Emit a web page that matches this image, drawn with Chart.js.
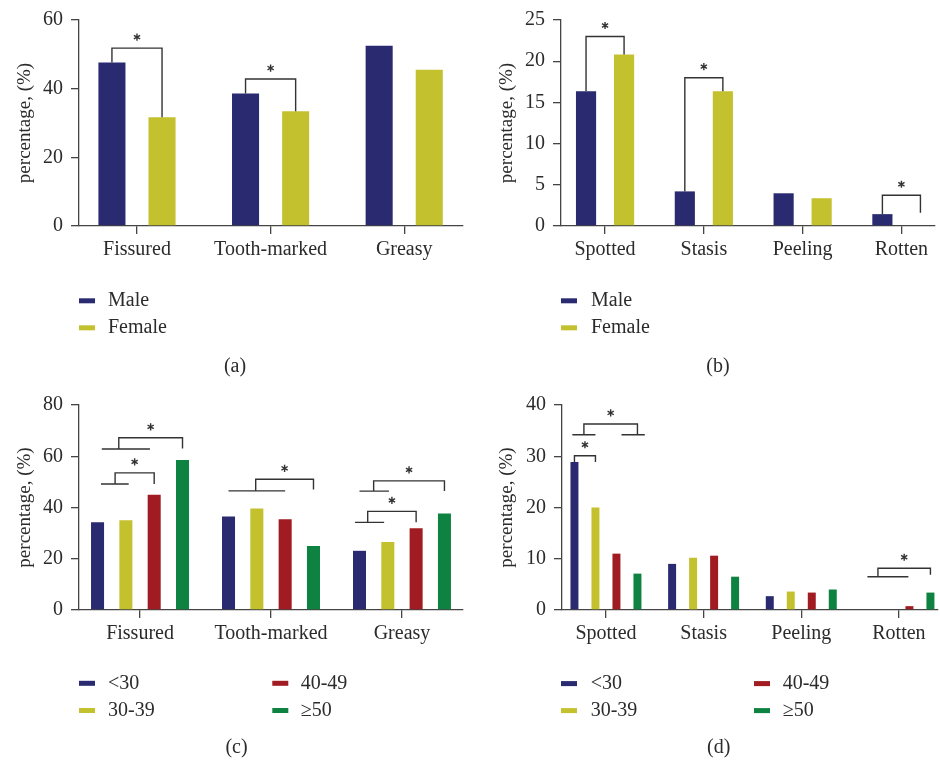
<!DOCTYPE html>
<html>
<head>
<meta charset="utf-8">
<script src="https://cdn.jsdelivr.net/npm/chart.js@4.4.1/dist/chart.umd.min.js"></script>
<style>
  html, body { margin: 0; padding: 0; background: #fff; }
  canvas { position: absolute; }
</style>
</head>
<body>
<canvas id="chartA" width="470" height="380" style="left:0;top:0"></canvas>
<canvas id="chartB" width="470" height="380" style="left:470px;top:0"></canvas>
<canvas id="chartC" width="470" height="376" style="left:0;top:385px"></canvas>
<canvas id="chartD" width="470" height="376" style="left:470px;top:385px"></canvas>
<script>
// categories
const tongueCats = ['Fissured', 'Tooth-marked', 'Greasy'];
const colorCats = ['Spotted', 'Stasis', 'Peeling', 'Rotten'];
const sexLabels = ['Male', 'Female'];
const ageLabels = ['<30', '30-39', '40-49', '\u226550'];

// (a) sex vs tongue shape
const maleA = [47.6, 38.6, 52.5];
const femaleA = [31.7, 33.4, 45.5];
// (b) sex vs tongue colour
const maleB = [16.35, 4.2, 3.97, 1.44];
const femaleB = [20.8, 16.35, 3.37, 0];
// (c) age vs tongue shape
const under30C = [34.2, 36.5, 23.1];
const age30C = [35.0, 39.6, 26.5];
const age40C = [45.0, 35.4, 31.9];
const age50C = [58.5, 25.0, 37.7];
// (d) age vs tongue colour
const under30D = [28.9, 9.0, 2.7, 0];
const age30D = [20.0, 10.2, 3.6, 0];
const age40D = [11.0, 10.6, 3.4, 0.75];
const age50D = [7.1, 6.5, 4.0, 3.4];

// y tick labels
const yTicksA = [0, 20, 40, 60];
const yTicksB = [0, 5, 10, 15, 20, 25];
const yTicksC = [0, 20, 40, 60, 80];
const yTicksD = [0, 10, 20, 30, 40];

// significance brackets: slot = bar position inside a group (0 = first series)
const bracketsA = [
  { cat: 0, from: 0, to: 1, top: 51.8 },
  { cat: 1, from: 0, to: 1, top: 42.8 }
];
const bracketsB = [
  { cat: 0, from: 0, to: 1, top: 23.0 },
  { cat: 1, from: 0, to: 1, top: 18.0 },
  { cat: 3, from: 0, to: 1, top: 3.73, toBase: 1.6 }
];
const bracketsC = [
  { cat: 0, from: 0.75, to: 3, top: 67.2, fromBase: 62.8, toBase: 63, fromSpan: [0.15, 1.85] },
  { cat: 0, from: 0.62, to: 2, top: 53.5, fromBase: 49.2, toBase: 49.2, fromSpan: [0.12, 1.1] },
  { cat: 1, from: 0.96, to: 3, top: 51.0, fromBase: 46.5, toBase: 47, fromSpan: [0, 2] },
  { cat: 2, from: 0.5, to: 3, top: 50.4, fromBase: 46.4, toBase: 46.4, fromSpan: [0, 1.04] },
  { cat: 2, from: 0.29, to: 2, top: 38.5, fromBase: 34.2, toBase: 34.2, fromSpan: [-0.16, 0.87] }
];
const bracketsD = [
  { cat: 0, from: 0, to: 1, top: 30.1, toBase: 28.9 },
  { cat: 0, from: 0.45, to: 3, top: 36.3, fromBase: 34.2, toBase: 34.2, fromSpan: [-0.1, 1.0], toSpan: [2.24, 3.35] },
  { cat: 3, from: 0.5, to: 3, top: 8.15, fromBase: 6.5, toBase: 6.9, fromSpan: [0, 1.95] }
];

const colors = ['#2a2a70', '#c4c12f', '#a01c22', '#0e8241'];
const serif = "'Liberation Serif', 'Times New Roman', serif";
const ink = '#2b2b2b';
const lineCol = '#444';

function slotX(chart, cat, s) {
  const x0 = chart.getDatasetMeta(0).data[cat].x;
  const x1 = chart.getDatasetMeta(1).data[cat].x;
  return x0 + s * (x1 - x0);
}

function drawStar(ctx, x, y) {
  const r = 3.6;
  ctx.beginPath();
  for (let k = 0; k < 3; k++) {
    const a = Math.PI / 2 + k * Math.PI / 3;
    ctx.moveTo(x - r * Math.cos(a), y - r * Math.sin(a));
    ctx.lineTo(x + r * Math.cos(a), y + r * Math.sin(a));
  }
  ctx.stroke();
}

const extras = {
  id: 'extras',
  afterDraw(chart, args, opts) {
    const ctx = chart.ctx;
    const y = chart.scales.y;
    const sets = chart.data.datasets;
    ctx.save();
    ctx.strokeStyle = '#333';
    ctx.lineWidth = 1.4;
    opts.brackets.forEach(b => {
      const xl = slotX(chart, b.cat, b.from);
      const xr = slotX(chart, b.cat, b.to);
      const yt = y.getPixelForValue(b.top);
      const bl = b.fromBase !== undefined ? b.fromBase : sets[Math.round(b.from)].data[b.cat].y;
      const br = b.toBase !== undefined ? b.toBase : sets[Math.round(b.to)].data[b.cat].y;
      ctx.beginPath();
      ctx.moveTo(xl, y.getPixelForValue(bl));
      ctx.lineTo(xl, yt);
      ctx.lineTo(xr, yt);
      ctx.lineTo(xr, y.getPixelForValue(br));
      if (b.fromSpan) {
        ctx.moveTo(slotX(chart, b.cat, b.fromSpan[0]), y.getPixelForValue(bl));
        ctx.lineTo(slotX(chart, b.cat, b.fromSpan[1]), y.getPixelForValue(bl));
      }
      if (b.toSpan) {
        ctx.moveTo(slotX(chart, b.cat, b.toSpan[0]), y.getPixelForValue(br));
        ctx.lineTo(slotX(chart, b.cat, b.toSpan[1]), y.getPixelForValue(br));
      }
      ctx.stroke();
      drawStar(ctx, (xl + xr) / 2, yt - 11);
    });

    // legend
    ctx.font = '20px ' + serif;
    ctx.textBaseline = 'middle';
    ctx.textAlign = 'left';
    sets.forEach((ds, i) => {
      const col = opts.legendCols[Math.floor(i / 2)];
      const ry = opts.legendRows[i % 2];
      ctx.fillStyle = ds.backgroundColor;
      ctx.fillRect(col[0], ry - 2.5, 16, 5);
      ctx.fillStyle = ink;
      ctx.fillText(ds.label, col[1], ry);
    });

    // panel label
    ctx.textAlign = 'center';
    ctx.fillText(opts.panel, opts.panelPos[0], opts.panelPos[1]);
    ctx.restore();
  }
};

function makeChart(id, cats, labels, series, yTicks, g) {
  return new Chart(document.getElementById(id), {
    type: 'bar',
    data: {
      datasets: series.map((vals, i) => ({
        label: labels[i],
        data: vals.map((v, k) => ({ x: k, y: v })),
        backgroundColor: colors[i],
        borderWidth: 0,
        categoryPercentage: g.catPct,
        barPercentage: g.barPct
      }))
    },
    options: {
      responsive: false,
      animation: false,
      events: [],
      layout: { padding: { left: 0, top: g.top, right: g.right, bottom: g.bottom } },
      plugins: {
        legend: { display: false },
        tooltip: { enabled: false },
        extras: g.extras
      },
      scales: {
        x: {
          type: 'linear',
          offset: false,
          min: g.xMin,
          max: g.xMax,
          afterBuildTicks: s => { s.ticks = cats.map((c, k) => ({ value: k })); },
          afterFit: s => { s.height = 40; },
          ticks: {
            autoSkip: false,
            maxRotation: 0,
            padding: 4,
            color: ink,
            font: { family: serif, size: 20 },
            callback: v => cats[v]
          },
          grid: { offset: false, drawOnChartArea: false, drawTicks: true, tickLength: 8, color: lineCol, lineWidth: 1.3 },
          border: { display: true, color: lineCol, width: 1.3 }
        },
        y: {
          min: yTicks[0],
          max: yTicks[yTicks.length - 1],
          afterBuildTicks: s => { s.ticks = yTicks.map(v => ({ value: v })); },
          afterFit: s => { s.width = g.left; },
          ticks: {
            padding: 8,
            color: ink,
            font: { family: serif, size: 20 }
          },
          grid: { drawOnChartArea: false, drawTicks: true, tickLength: 8, color: lineCol, lineWidth: 1.3 },
          border: { display: true, color: lineCol, width: 1.3 },
          title: {
            display: true,
            text: 'percentage, (%)',
            color: ink,
            font: { family: serif, size: 19 },
            padding: { top: g.titlePad, bottom: 0 }
          }
        }
      }
    },
    plugins: [extras]
  });
}

makeChart('chartA', tongueCats, sexLabels, [maleA, femaleA], yTicksA, {
  left: 79, right: 7, top: 18, bottom: 114, xMin: -0.434, xMax: 2.44,
  catPct: 0.75, barPct: 0.54, titlePad: 14,
  extras: { brackets: bracketsA, legendCols: [[79, 108]], legendRows: [300.8, 327.8], panel: '(a)', panelPos: [235, 367] }
});
makeChart('chartB', colorCats, sexLabels, [maleB, femaleB], yTicksB, {
  left: 91, right: 5, top: 18, bottom: 114, xMin: -0.446, xMax: 3.34,
  catPct: 0.77, barPct: 0.53, titlePad: 25.6,
  extras: { brackets: bracketsB, legendCols: [[91, 121]], legendRows: [300.8, 327.8], panel: '(b)', panelPos: [248, 367] }
});
makeChart('chartC', tongueCats, ageLabels, [under30C, age30C, age40C, age50C], yTicksC, {
  left: 79, right: 7, top: 17.3, bottom: 111, xMin: -0.466, xMax: 2.466,
  catPct: 0.865, barPct: 0.46, titlePad: 14,
  extras: { brackets: bracketsC, legendCols: [[79, 108], [272.3, 300.7]], legendRows: [298.3, 325.5], panel: '(c)', panelPos: [236.5, 363] }
});
makeChart('chartD', colorCats, ageLabels, [under30D, age30D, age40D, age50D], yTicksD, {
  left: 92, right: 2, top: 17.3, bottom: 111, xMin: -0.45, xMax: 3.4,
  catPct: 0.86, barPct: 0.38, titlePad: 25.6,
  extras: { brackets: bracketsD, legendCols: [[91, 120.7], [284, 312.7]], legendRows: [298.6, 325.6], panel: '(d)', panelPos: [248.7, 363] }
});
</script>
</body>
</html>
